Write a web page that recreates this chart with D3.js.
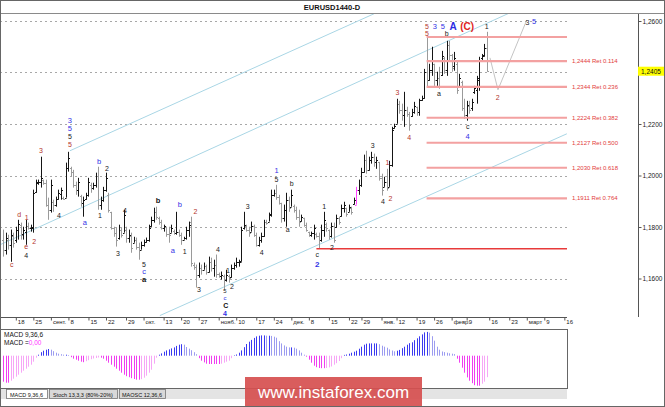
<!DOCTYPE html>
<html><head><meta charset="utf-8">
<script src="https://cdn.jsdelivr.net/npm/d3@7"></script>
<style>body{margin:0;background:#fff}svg{display:block}</style>
</head><body>
<svg id="c" width="665" height="407"></svg>
<script>
// ---- DATA ----
const openP = [1.1751,1.1712,1.1751,1.1731,1.1766,1.1751,1.1790,1.1809,1.1774,1.1782,1.1805,1.1797,1.1797,1.1937,1.1972,1.1976,1.1984,1.1972,1.1887,1.1867,1.1898,1.1887,1.1910,1.1929,1.1914,1.1914,1.2030,1.2030,1.2015,1.1964,1.1945,1.1922,1.1894,1.1910,1.1925,1.1964,1.1953,1.1964,1.1999,1.1887,1.1906,1.1945,1.1925,1.1859,1.1797,1.1778,1.1759,1.1790,1.1778,1.1790,1.1759,1.1766,1.1739,1.1751,1.1724,1.1712,1.1731,1.1743,1.1751,1.1805,1.1828,1.1859,1.1836,1.1821,1.1797,1.1801,1.1774,1.1778,1.1786,1.1778,1.1782,1.1770,1.1751,1.1759,1.1790,1.1821,1.1654,1.1646,1.1615,1.1642,1.1634,1.1650,1.1627,1.1665,1.1642,1.1654,1.1619,1.1611,1.1611,1.1596,1.1611,1.1607,1.1642,1.1654,1.1665,1.1665,1.1797,1.1805,1.1790,1.1782,1.1805,1.1770,1.1731,1.1751,1.1766,1.1821,1.1821,1.1852,1.1925,1.1933,1.1918,1.1894,1.1836,1.1867,1.1906,1.1879,1.1883,1.1867,1.1840,1.1825,1.1836,1.1809,1.1782,1.1770,1.1778,1.1774,1.1766,1.1751,1.1790,1.1813,1.1790,1.1766,1.1805,1.1801,1.1836,1.1844,1.1875,1.1875,1.1859,1.1875,1.1891,1.1887,1.1945,1.1964,1.2015,1.2061,1.2022,1.2061,1.2073,1.2053,1.2053,1.1991,1.1956,1.1976,1.1956,1.2042,1.2185,1.2201,1.2279,1.2255,1.2236,1.2255,1.2240,1.2232,1.2247,1.2267,1.2247,1.2294,1.2302,1.2403,1.2372,1.2410,1.2434,1.2372,1.2379,1.2391,1.2457,1.2410,1.2507,1.2469,1.2426,1.2434,1.2348,1.2364,1.2263,1.2236,1.2271,1.2263,1.2325,1.2333,1.2372,1.2457,1.2469,1.2496];
const highP = [1.1790,1.1778,1.1770,1.1790,1.1778,1.1801,1.1828,1.1817,1.1801,1.1828,1.1817,1.1809,1.1945,1.1984,1.1984,1.2073,1.1984,1.1984,1.1914,1.1984,1.1906,1.1918,1.1945,1.1953,1.1918,1.2050,1.2092,1.2034,1.2022,1.1976,1.1991,1.1925,1.1918,1.1933,1.1991,1.1972,1.1972,1.2011,1.2034,1.1918,1.1956,1.2011,1.1933,1.1859,1.1801,1.1797,1.1809,1.1797,1.1867,1.1801,1.1790,1.1778,1.1762,1.1759,1.1739,1.1743,1.1751,1.1759,1.1809,1.1840,1.1875,1.1879,1.1840,1.1828,1.1809,1.1801,1.1801,1.1809,1.1790,1.1859,1.1790,1.1778,1.1762,1.1801,1.1821,1.1840,1.1662,1.1654,1.1662,1.1654,1.1662,1.1654,1.1685,1.1681,1.1673,1.1693,1.1623,1.1627,1.1615,1.1634,1.1615,1.1654,1.1662,1.1681,1.1673,1.1801,1.1859,1.1809,1.1801,1.1821,1.1809,1.1778,1.1762,1.1778,1.1828,1.1828,1.1856,1.1945,1.1945,1.1964,1.1925,1.1894,1.1887,1.1933,1.1918,1.1945,1.1887,1.1879,1.1867,1.1848,1.1836,1.1817,1.1782,1.1782,1.1809,1.1778,1.1778,1.1809,1.1859,1.1817,1.1790,1.1817,1.1817,1.1848,1.1840,1.1887,1.1898,1.1875,1.1887,1.1879,1.1914,1.1956,1.1984,1.2030,1.2081,1.2096,1.2073,1.2092,1.2085,1.2073,1.2053,1.2007,1.1995,1.2026,1.2057,1.2189,1.2201,1.2298,1.2290,1.2279,1.2325,1.2267,1.2247,1.2259,1.2286,1.2267,1.2298,1.2310,1.2414,1.2538,1.2434,1.2500,1.2434,1.2403,1.2422,1.2484,1.2461,1.2523,1.2523,1.2472,1.2480,1.2441,1.2395,1.2368,1.2298,1.2290,1.2290,1.2298,1.2348,1.2387,1.2461,1.2472,1.2511,1.2558];
const lowP = [1.1685,1.1693,1.1712,1.1665,1.1720,1.1739,1.1751,1.1751,1.1751,1.1731,1.1790,1.1782,1.1778,1.1933,1.1964,1.1953,1.1964,1.1879,1.1828,1.1856,1.1859,1.1879,1.1906,1.1906,1.1906,1.1914,1.2015,1.1995,1.1953,1.1925,1.1918,1.1879,1.1840,1.1906,1.1918,1.1933,1.1945,1.1953,1.1867,1.1867,1.1898,1.1937,1.1856,1.1790,1.1762,1.1724,1.1751,1.1759,1.1778,1.1739,1.1739,1.1700,1.1739,1.1712,1.1673,1.1712,1.1724,1.1739,1.1743,1.1801,1.1817,1.1828,1.1809,1.1790,1.1782,1.1762,1.1739,1.1778,1.1770,1.1770,1.1762,1.1731,1.1751,1.1751,1.1762,1.1646,1.1634,1.1565,1.1603,1.1615,1.1634,1.1615,1.1623,1.1627,1.1607,1.1603,1.1603,1.1596,1.1557,1.1588,1.1584,1.1603,1.1634,1.1642,1.1646,1.1665,1.1790,1.1782,1.1762,1.1782,1.1762,1.1724,1.1724,1.1739,1.1762,1.1809,1.1821,1.1840,1.1918,1.1906,1.1887,1.1817,1.1821,1.1801,1.1859,1.1879,1.1856,1.1828,1.1801,1.1821,1.1801,1.1782,1.1762,1.1762,1.1751,1.1759,1.1716,1.1743,1.1762,1.1782,1.1751,1.1759,1.1739,1.1797,1.1809,1.1840,1.1856,1.1840,1.1859,1.1848,1.1887,1.1887,1.1925,1.1956,1.2011,1.2007,1.2019,1.2046,1.2034,1.2026,1.1980,1.1922,1.1956,1.1941,1.1956,1.2034,1.2182,1.2201,1.2240,1.2213,1.2189,1.2228,1.2174,1.2228,1.2240,1.2232,1.2232,1.2290,1.2298,1.2344,1.2368,1.2387,1.2348,1.2348,1.2337,1.2387,1.2395,1.2387,1.2445,1.2403,1.2407,1.2317,1.2344,1.2251,1.2220,1.2213,1.2240,1.2251,1.2317,1.2279,1.2329,1.2441,1.2461,1.2403];
const closeP = [1.1712,1.1759,1.1731,1.1770,1.1739,1.1790,1.1813,1.1770,1.1790,1.1805,1.1797,1.1801,1.1933,1.1976,1.1976,1.1991,1.1972,1.1887,1.1867,1.1964,1.1887,1.1910,1.1933,1.1945,1.1910,1.2030,1.2069,1.2015,1.1964,1.1945,1.1976,1.1894,1.1906,1.1925,1.1976,1.1953,1.1964,1.1999,1.1887,1.1906,1.1945,1.1991,1.1867,1.1797,1.1778,1.1751,1.1790,1.1770,1.1848,1.1759,1.1770,1.1720,1.1751,1.1724,1.1712,1.1731,1.1743,1.1751,1.1797,1.1828,1.1859,1.1840,1.1821,1.1797,1.1805,1.1774,1.1770,1.1797,1.1778,1.1782,1.1770,1.1751,1.1759,1.1790,1.1809,1.1662,1.1646,1.1615,1.1642,1.1634,1.1650,1.1627,1.1665,1.1642,1.1654,1.1619,1.1611,1.1615,1.1596,1.1615,1.1603,1.1642,1.1654,1.1665,1.1669,1.1790,1.1809,1.1790,1.1778,1.1805,1.1770,1.1731,1.1751,1.1766,1.1821,1.1817,1.1848,1.1925,1.1933,1.1918,1.1894,1.1836,1.1867,1.1906,1.1875,1.1925,1.1867,1.1840,1.1821,1.1840,1.1809,1.1790,1.1770,1.1778,1.1797,1.1766,1.1751,1.1790,1.1828,1.1797,1.1766,1.1805,1.1751,1.1836,1.1821,1.1875,1.1887,1.1852,1.1879,1.1859,1.1906,1.1945,1.1964,1.2015,1.2061,1.2022,1.2061,1.2073,1.2053,1.2061,1.1991,1.1945,1.1976,1.1953,1.2042,1.2178,1.2193,1.2279,1.2255,1.2236,1.2255,1.2240,1.2197,1.2247,1.2271,1.2247,1.2294,1.2302,1.2403,1.2372,1.2410,1.2449,1.2372,1.2379,1.2348,1.2465,1.2410,1.2507,1.2469,1.2418,1.2457,1.2333,1.2379,1.2263,1.2236,1.2275,1.2255,1.2286,1.2341,1.2379,1.2449,1.2465,1.2496,1.2405];
// MACD(9,36,6) histogram, in 1e-4 units
const macdHist = [-26,-27,-27,-25,-23,-21,-19,-17,-15,-13,
 -11,-9,-6,-2,1,3.5,5,6,6.7,6,
 4.5,3,2,1.5,1,1,0.7,-1.5,-3,-4,
 -5,-6,-6.5,-5.5,-4.5,-3.5,-2.8,-2.3,-1.8,-2,
 -3,-5,-7,-9,-11,-13,-15,-17,-19,-20.5,
 -21.5,-22.5,-23.3,-24,-24,-23.5,-22,-20,-17,-14,
 -8,-2,1,2.3,4,5.3,6.3,7.3,8.3,9.8,
 11,11.5,11,8.7,7,5.5,3.5,1.5,-2.5,-5,
 -6.7,-8,-8.3,-8.3,-8.3,-8.3,-8.3,-8,-7,-6,
 -5,-2.5,0.5,1.2,3,5.3,8.5,11.7,14,15.8,
 17.8,19.3,20,20.3,20.3,20,20,19.8,19,18,
 14.5,12.3,10.3,9,8.3,8.3,8,7,5.3,3,
 1,-1,-4,-7,-10,-11.5,-12.3,-12.5,-12.5,-12.3,
 -11.7,-10.8,-9,-7.5,-5.3,-2.5,0.8,1.2,2,3,
 4,5,7,9,11,12,12.3,12.3,12.3,12.3,
 11.5,10,9,8,6.3,5.2,4.4,5,5.8,7.5,
 9,11,12.5,13.4,15.5,17.4,19.4,21.3,23.3,23.8,
 23,19.5,15,9,6,4.2,3.6,3,2.4,2,
 1.6,-3,-7,-12,-17,-21.7,-25,-27.5,-29.5,-30,
 -30,-28,-26,-21.5];
const priceTicks = [1.16,1.18,1.20,1.22,1.24,1.26];
const timeTickBars = [5,12,19,26,34,41,49,56,64,71,78,86,93,101,108,115,122,130,138,143,151,157,165,172,179,185,194,202,209,216,224];
const timeTickLabels = ["18","25","сент.","8","15","22","29","окт.","13","20","27","нояб.","10","17","24","дек.","8","15","22","29","янв.","12","19","26","февр.","9","16","23","март","9","16"];
const fibPrices = [1.2538,1.2444,1.2344,1.2224,1.2127,1.2030,1.1911,1.1716];
const fibTexts = ["","1,2444 Ret 0.114","1,2344 Ret 0.236","1,2224 Ret 0.382","1,2127 Ret 0.500","1,2030 Ret 0.618","1,1911 Ret 0.764",""];
const fibStartBar = [169,169,169,169,169,169,169,125];
const lastPrice = 1.2405;
const highlightBar = 141;
// trend channel lines [bar, price]
const channelLines = [
  [[26.6,1.2096],[148,1.2628]],
  [[-1.3,1.1731],[202.3,1.2632]],
  [[62.5,1.1456],[225,1.2162]]
];
const projection = [[194.3,1.2457],[197.5,1.2333],[209,1.2604]];
// wave labels [text, bar, price, style]
const waveLabels = [
["c",3.35,1.1654,"r"],["d",6.3,1.1848,"r"],["1",9.3,1.1836,"r"],["e",9.1,1.1724,"r"],["4",9.1,1.1689,"k"],["2",12.3,1.1743,"r"],["3",15.0,1.2096,"r"],["4",22.2,1.1844,"k"],
["3",26.6,1.2214,"b"],["5",26.6,1.2183,"b"],["5",26.6,1.2151,"k"],["5",26.6,1.2119,"r"],
["a",32.6,1.1817,"b"],["1",38.6,1.1844,"k"],["b",38.2,1.2053,"b"],["2",41.4,1.2026,"k"],["3",45.8,1.1697,"k"],["4",48.6,1.1863,"k"],
["5",56.2,1.1656,"k"],["c",56.2,1.1628,"b"],["a",56.2,1.1598,"K"],["b",61.8,1.1902,"K"],["b",70.5,1.1887,"b"],["a",67.7,1.1708,"b"],["1",72.4,1.1704,"k"],["2",76.7,1.1859,"r"],["3",78.1,1.1557,"k"],["4",85.7,1.1712,"k"],["1",89.7,1.1631,"k"],["2",91.3,1.1568,"k"],
["5",88.5,1.1553,"s"],["c",88.5,1.1526,"t"],["C",88.8,1.1497,"Q"],["4",88.5,1.1466,"P"],
["3",97.6,1.1879,"k"],["4",103.2,1.1700,"k"],["1",109.1,1.2019,"b"],["5",109.1,1.1984,"k"],["b",115.1,1.1968,"k"],["a",113.5,1.1790,"k"],["c",125.3,1.1695,"k"],["2",125.3,1.1656,"B"],["1",128.1,1.1879,"k"],["2",131.2,1.1720,"k"],
["3",147.5,1.2116,"k"],["4",151.6,1.1898,"k"],["1",153.4,1.2050,"r"],["2",154.6,1.1910,"r"],["3",157.4,1.2321,"r"],["4",162.1,1.2147,"r"],
["5",169.1,1.2579,"r"],["5",169.1,1.2552,"r"],["3",172.3,1.2577,"b"],["5",175.5,1.2577,"b"],["A",179.6,1.2577,"A"],["(C)",185.2,1.2577,"C"],["b",177,1.2552,"k"],["a",173.9,1.2320,"k"],["c",185.4,1.2191,"k"],["4",185.4,1.2152,"b"],["1",193,1.2577,"k"],["2",197.4,1.2301,"r"],["3",209.3,1.2595,"k"],["5",211.9,1.2597,"b"]
];

// ---- CHART ----
const svg = d3.select("#c");
const FONT = "'Liberation Sans', Arial, sans-serif";
const PL = 0, PR = 567, PT = 14, PB = 317, AX = 638;
svg.append("rect").attr("width",665).attr("height",407).attr("fill","#fff");

const x = d3.scaleLinear().domain([0, closeP.length-1]).range([3.3, 486.7]);
const y = d3.scaleLinear().domain([1.16,1.26]).range([278.5,21]);

svg.append("defs").append("clipPath").attr("id","plot")
  .append("rect").attr("x",PL).attr("y",PT).attr("width",PR-PL).attr("height",PB-PT);

// title
svg.append("text").attr("x",332).attr("y",10).attr("text-anchor","middle")
  .attr("font-family",FONT).attr("font-size",7.5).attr("font-weight","bold").attr("fill","#111").text("EURUSD1440-D");

// grid
const g = svg.append("g");
g.selectAll("line.grid").data(priceTicks).join("line")
  .attr("x1",PL).attr("x2",PR).attr("y1",d=>Math.round(y(d))+0.5).attr("y2",d=>Math.round(y(d))+0.5)
  .attr("stroke","#a8a8a8").attr("stroke-dasharray","2,3").attr("stroke-width",1);

const plot = svg.append("g").attr("clip-path","url(#plot)");
// channel lines
plot.selectAll("line.ch").data(channelLines).join("line")
  .attr("x1",d=>x(d[0][0])).attr("y1",d=>y(d[0][1])).attr("x2",d=>x(d[1][0])).attr("y2",d=>y(d[1][1]))
  .attr("stroke","#a9d6e5").attr("stroke-width",1);

// fib lines
svg.append("g").selectAll("line").data(fibPrices).join("line")
  .attr("x1",(d,i)=>x(fibStartBar[i])).attr("x2",PR)
  .attr("y1",d=>y(d)).attr("y2",d=>y(d))
  .attr("stroke",(d,i)=> i===fibPrices.length-1 ? "#e83a3a" : "#f3a1a1")
  .attr("stroke-width",(d,i)=> i===fibPrices.length-1 ? 1.5 : 2.1);
svg.append("g").selectAll("text").data(fibPrices).join("text")
  .attr("x",572).attr("y",d=>y(d)+2).attr("font-family",FONT).attr("font-size",6)
  .attr("fill","#e23b3b").text((d,i)=>fibTexts[i]);

// OHLC bars
const bars = plot.append("g");
closeP.forEach((c,i)=>{
  const xi = Math.round(x(i))+0.5;
  const col = i===highlightBar ? "#ff44ff" : (c >= openP[i] ? "#151515" : "#9a9a9a");
  bars.append("line").attr("x1",xi).attr("x2",xi).attr("y1",y(highP[i])).attr("y2",y(lowP[i])).attr("stroke",col);
  bars.append("line").attr("x1",xi-1.5).attr("x2",xi).attr("y1",Math.round(y(openP[i]))+0.5).attr("y2",Math.round(y(openP[i]))+0.5).attr("stroke",col);
  bars.append("line").attr("x1",xi).attr("x2",xi+1.5).attr("y1",Math.round(y(c))+0.5).attr("y2",Math.round(y(c))+0.5).attr("stroke",col);
});

// projection path
plot.append("path").datum(projection)
  .attr("d", d3.line().x(d=>x(d[0])).y(d=>y(d[1])))
  .attr("fill","none").attr("stroke","#c4c4c4").attr("stroke-width",1);

// wave labels
const LS = {
  r:{fill:"#b3342c",size:7,w:"normal"},
  k:{fill:"#1a1a1a",size:7,w:"normal"},
  s:{fill:"#1a1a1a",size:6,w:"normal"},
  t:{fill:"#3131e6",size:6,w:"normal"},
  b:{fill:"#3131e6",size:7.5,w:"normal"},
  K:{fill:"#111",size:7.5,w:"bold"},
  Q:{fill:"#111",size:7,w:"bold"},
  B:{fill:"#3131e6",size:8,w:"bold"},
  P:{fill:"#3131e6",size:7,w:"bold"},
  A:{fill:"#2b2be2",size:10,w:"bold"},
  C:{fill:"#e02424",size:10,w:"bold"}
};
svg.append("g").selectAll("text").data(waveLabels).join("text")
  .attr("x",d=>x(d[1])).attr("y",d=>y(d[2]))
  .attr("text-anchor","middle").attr("dominant-baseline","central")
  .attr("font-family",FONT).attr("font-size",d=>LS[d[3]].size).attr("font-weight",d=>LS[d[3]].w)
  .attr("fill",d=>LS[d[3]].fill).text(d=>d[0]);

// frame lines
svg.append("line").attr("x1",0).attr("x2",665).attr("y1",13.5).attr("y2",13.5).attr("stroke","#8a8a8a");
svg.append("line").attr("x1",AX+0.5).attr("x2",AX+0.5).attr("y1",14).attr("y2",PB).attr("stroke","#555");
svg.append("line").attr("x1",0).attr("x2",PR).attr("y1",PB+0.5).attr("y2",PB+0.5).attr("stroke","#555");

// y axis
const yAxis = svg.append("g").attr("transform",`translate(${AX+0.5},0)`)
  .call(d3.axisRight(y).tickValues(priceTicks).tickSize(3).tickPadding(1)
    .tickFormat(d=>d.toFixed(4).replace(".",",")));
yAxis.select(".domain").remove();
yAxis.selectAll("line").attr("stroke","#555");
yAxis.selectAll("text").attr("font-family",FONT).attr("font-size",6.5).attr("fill","#222");

// last price box
svg.append("rect").attr("x",AX).attr("y",y(lastPrice)-4.5).attr("width",27).attr("height",9).attr("fill","#ffff00");
svg.append("text").attr("x",AX+3).attr("y",y(lastPrice)+2.5).attr("font-family",FONT).attr("font-size",6.5)
  .attr("fill","#111").text(lastPrice.toFixed(4).replace(".",","));

// time axis
const xAxis = svg.append("g").attr("transform",`translate(0,${PB+0.5})`)
  .call(d3.axisBottom(x).tickValues(timeTickBars).tickSize(3).tickPadding(1)
    .tickFormat((d,i)=>timeTickLabels[i]));
xAxis.select(".domain").remove();
xAxis.selectAll("line").attr("stroke","#555");
xAxis.selectAll("text").attr("text-anchor","start").attr("dx",1.5).attr("y",2.5)
  .attr("font-family",FONT).attr("font-size",6).attr("fill","#222");

// MACD panel
const MT = 329, MB = 388, Z = 355.7;
svg.append("rect").attr("x",0.5).attr("y",MT+0.5).attr("width",PR).attr("height",MB-MT).attr("fill","none").attr("stroke","#666");
const ym = d3.scaleLinear().domain([-30,30]).range([Z+30,Z-30]);
svg.append("g").selectAll("line").data(macdHist).join("line")
  .attr("x1",(d,i)=>Math.round(x(i))+0.5).attr("x2",(d,i)=>Math.round(x(i))+0.5)
  .attr("y1",ym(0)).attr("y2",d=>ym(d))
  .attr("stroke",(d,i)=>{
    const prev = i>0 ? macdHist[i-1] : d;
    if (d >= 0) return d >= prev ? "#3a3af0" : "#9c9cf0";
    return d <= prev ? "#f03ef0" : "#f6a6f6";
  });
svg.append("text").attr("x",4).attr("y",MT+8).attr("font-family",FONT).attr("font-size",6.5).attr("fill","#111").text("MACD 9,36,6");
const mt = svg.append("text").attr("x",4).attr("y",MT+16).attr("font-family",FONT).attr("font-size",6.5).attr("fill","#111");
mt.append("tspan").text("MACD =");
mt.append("tspan").attr("fill","#ff33ff").text("0,00");

// tabs
svg.append("rect").attr("x",1).attr("y",MB+1).attr("width",PR-1).attr("height",10).attr("fill","#e4e4e4");
const tabs = [["MACD 9,36,6",6,41],["Stoch 13,3,3 (80%-20%)",49,68],["MAOSC 12,36,6",119,46]];
tabs.forEach((t,k)=>{
  svg.append("rect").attr("x",t[1]+0.5).attr("y",MB+1.5).attr("width",t[2]).attr("height",9)
    .attr("fill",k===0?"#fff":"#d8d8d8").attr("stroke","#777").attr("stroke-width",0.8);
  svg.append("text").attr("x",t[1]+t[2]/2).attr("y",MB+8.5).attr("text-anchor","middle")
    .attr("font-family",FONT).attr("font-size",5.5).attr("fill","#111").text(t[0]);
});

// watermark
svg.append("rect").attr("x",245).attr("y",377).attr("width",177).attr("height",30).attr("fill","#d64f4f").attr("opacity",0.92);
svg.append("text").attr("x",333.5).attr("y",398).attr("text-anchor","middle").attr("font-family",FONT)
  .attr("font-size",17).attr("fill","#fff").text("www.instaforex.com");

// outer border
svg.append("rect").attr("x",0.5).attr("y",0.5).attr("width",664).attr("height",406).attr("fill","none").attr("stroke","#666");
</script>
</body></html>
